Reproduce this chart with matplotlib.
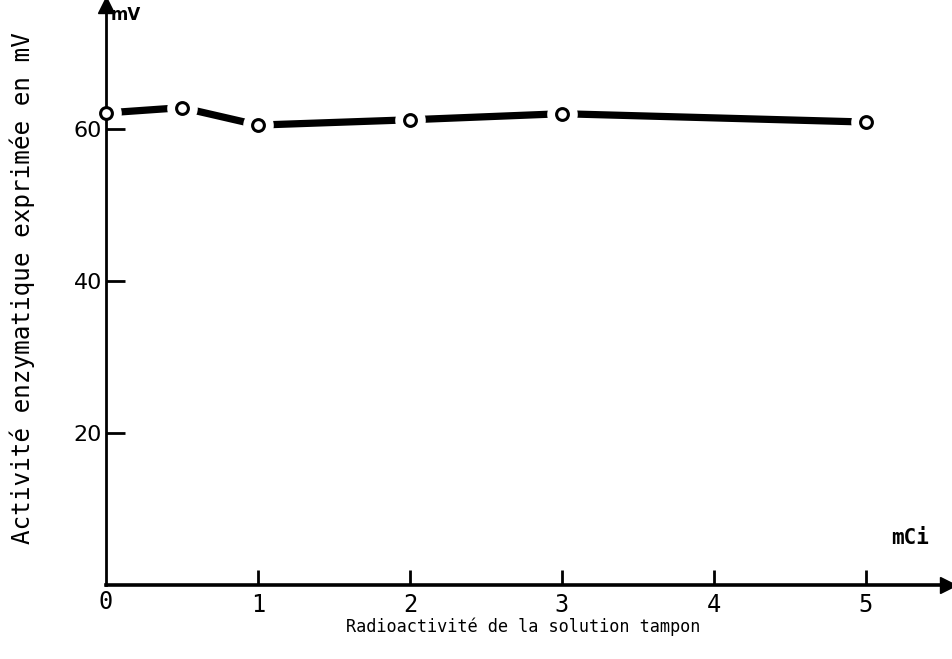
import numpy as np
import matplotlib.pyplot as plt

# valeurs
dose = [0, 0.5, 1, 2, 3, 5]          # mCi
activite = [62.1, 62.8, 60.5, 61.2, 62.0, 60.9]  # mV
xticks = [1, 2, 3, 4, 5]
yticks = [20, 40, 60]

sans = ['DejaVu Sans']
mono = ['DejaVu Sans Mono']

fig = plt.figure(figsize=(9.53, 6.59), dpi=100)
ax = fig.add_axes([106/953, (659-585)/659, (948-106)/953, (585-5)/659])
ax.set_xlim(0, 5.54)
ax.set_ylim(0, 76.3)
ax.set_axisbelow(False)

for s in ['top', 'right']:
    ax.spines[s].set_visible(False)
ax.spines['left'].set_linewidth(2.0)
ax.spines['bottom'].set_linewidth(2.6)

# fleches des axes
ax.plot(1, 0, '>k', ms=11, transform=ax.transAxes, clip_on=False)
ax.plot(0, 1, '^k', ms=11, transform=ax.transAxes, clip_on=False)

# courbe : trait epais, cercles creux avec un blanc autour
ax.plot(dose, activite, '-', color='k', lw=5.2, solid_capstyle='round', zorder=2)
ax.plot(dose, activite, 'o', ms=22, mfc='white', mec='white', mew=0, zorder=2.2,
        clip_on=False)
ax.plot(dose, activite, 'o', ms=8.5, mfc='white', mec='k', mew=2.2, zorder=3, clip_on=False)

ax.set_xticks(xticks)
ax.set_yticks(yticks)
ax.tick_params(axis='y', direction='in', length=14, width=2, pad=3)
ax.tick_params(axis='x', direction='in', length=11, width=2, pad=6)
for t in ax.get_yticklabels():
    t.set_family(sans)
    t.set_fontsize(16)
for t in ax.get_xticklabels():
    t.set_family(mono)
    t.set_fontsize(17)
fig.text(106/953, 1 - 602/659, '0', family=mono, fontsize=17, ha='center', va='center')

fig.text(111/953, 1 - 15/659, 'mV', family=sans, fontsize=12, fontweight='bold',
         ha='left', va='center')
fig.text(910/953, 1 - 538/659, 'mCi', family=mono, fontsize=15, fontweight='bold',
         ha='center', va='center')

fig.text(523/953, 1 - 627/659, 'Radioactivité de la solution tampon', family=mono,
         fontsize=12.2, ha='center', va='center')
fig.text(22/953, 1 - 288/659, 'Activité enzymatique exprimée en mV', family=mono,
         fontsize=17.5, rotation=90, ha='center', va='center')

plt.savefig('out.png', dpi=100)
